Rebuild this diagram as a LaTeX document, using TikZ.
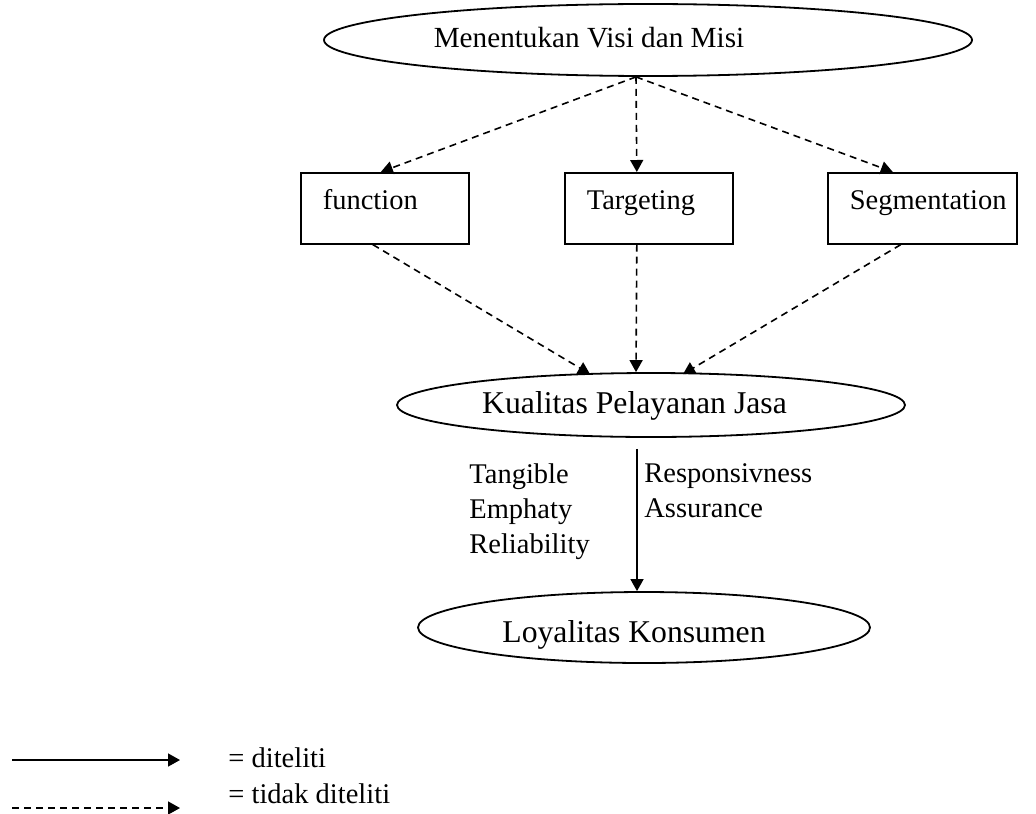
\documentclass[tikz,border=0pt]{standalone}
\usepackage{fontspec}
\setmainfont{Liberation Serif}
\usepackage{tikz}
\usetikzlibrary{arrows.meta,shapes.geometric}
\tikzset{
  ovalnode/.style={ellipse, draw=black, line width=0.9pt, inner sep=0pt},
  boxnode/.style={rectangle, draw=black, line width=0.8pt, anchor=north west, align=left, inner xsep=11pt, inner ysep=0pt, text height=18.5pt, text depth=17pt, font=\fontsize{14.25}{17}\selectfont},
  ovaltext/.style={anchor=base, inner sep=0pt, font=\fontsize{15.85}{19}\selectfont},
  dimtext/.style={anchor=north west, align=left, inner sep=0pt, font=\fontsize{14.25}{17.5}\selectfont},
  legendtext/.style={anchor=base west, inner sep=0pt, font=\fontsize{14.25}{17}\selectfont},
  dasharrow/.style={-{Triangle[length=6pt,width=6.5pt]}, line width=0.8pt, dash pattern=on 3.5pt off 2.5pt},
  solidarrow/.style={-{Triangle[length=6pt,width=6.5pt]}, line width=0.8pt},
}

\begin{document}
\begin{tikzpicture}[x=0.5pt,y=-0.5pt]
  \useasboundingbox (0,0) rectangle (1036,813);

  \node[ovalnode, minimum width=324pt, minimum height=36pt] (visi) at (648,40) {};
  \node[ovaltext, font=\fontsize{14.6}{17}\selectfont] (visitext) at (589,48) {Menentukan Visi dan Misi};

  \node[boxnode, text width=62pt] (func) at (300,172) {function};
  \node[boxnode, text width=62pt] (target) at (564,172) {Targeting};
  \node[boxnode, text width=72.5pt] (segment) at (827,172) {\mbox{Segmentation}};

  \node[ovalnode, minimum width=254pt, minimum height=32pt] (kualitas) at (651,405) {};
  \node[ovaltext] (kualitastext) at (634.5,413) {Kualitas Pelayanan Jasa};

  \node[ovalnode, minimum width=226pt, minimum height=35.5pt] (loyal) at (644,627.5) {};
  \node[ovaltext] (loyaltext) at (634,642) {Loyalitas Konsumen};

  \node[dimtext] (dimleft) at (469,463) {Tangible\\Emphaty\\Reliability};
  \node[dimtext] (dimright) at (644,463) {Responsivness\\Assurance};

  % visi dan misi ke tiga kotak
  \draw[dasharrow] ([xshift=-6pt]visi.south) -- ([xshift=-2pt]func.north);
  \draw[dasharrow] ([xshift=-6pt]visi.south) -- ([xshift=-6pt]target.north);
  \draw[dasharrow] ([xshift=-6pt]visi.south) -- ([xshift=-14.75pt]segment.north);

  % kotak ke kualitas pelayanan
  \draw[dasharrow] ([xshift=-6pt]func.south) -- ([xshift=-30.5pt,yshift=-1pt]kualitas.north);
  \draw[dasharrow] ([xshift=-6pt]target.south) -- ([xshift=-7.5pt]kualitas.north);
  \draw[dasharrow] ([xshift=-10.75pt]segment.south) -- ([xshift=16pt,yshift=-1pt]kualitas.north);

  \draw[solidarrow] ([xshift=-7pt,yshift=-5.5pt]kualitas.south) -- ([xshift=-3.5pt]loyal.north);

  % keterangan
  \coordinate (solidstart) at (12,760);
  \coordinate (solidend) at (180,760);
  \coordinate (dashstart) at (12,808);
  \coordinate (dashend) at (180,808);
  \draw[solidarrow] (solidstart) -- (solidend);
  \draw[dasharrow] (dashstart) -- (dashend);
  \node[legendtext] (legsolid) at (228,767) {= diteliti};
  \node[legendtext] (legdash) at (228,803) {= tidak diteliti};
\end{tikzpicture}
\end{document}
